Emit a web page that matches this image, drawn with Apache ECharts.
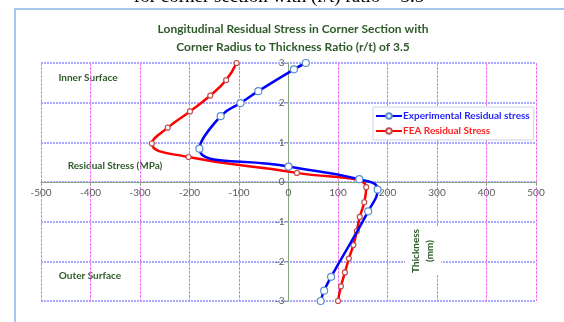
<!DOCTYPE html>
<html>
<head>
<meta charset="utf-8">
<script src="https://cdn.jsdelivr.net/npm/echarts@6/dist/echarts.min.js"></script>
<style>
  html, body { margin: 0; padding: 0; background: #fff; }
  #chart { width: 564px; height: 322px; }
</style>
</head>
<body>
<div id="chart"></div>
<script>
// Residual stress (MPa) against through-thickness position (mm)
const expStress = [35, 11, -61, -97, -137, -180, 0, 143, 180, 161, 86, 72, 65];
const expDepth  = [3, 2.84, 2.29, 1.99, 1.66, 0.84, 0.39, 0.07, -0.19, -0.74, -2.39, -2.74, -3];

const feaStress = [-105, -126, -158, -199, -244, -276, -202, 17, 157, 153, 144, 138, 131, 122, 114, 106, 100];
const feaDepth  = [3, 2.57, 2.18, 1.78, 1.37, 0.97, 0.63, 0.23, -0.13, -0.51, -0.88, -1.24, -1.59, -1.93, -2.28, -2.63, -3];

const seriesNames = ['Experimental Residual stress', 'FEA Residual Stress'];
const titleLines = [
  'Longitudinal Residual Stress in Corner Section with',
  'Corner Radius to Thickness Ratio (r/t) of 3.5'
];
const captionText = 'for corner section with (r/t) ratio = 3.5';

const pairs = (xs, ys) => xs.map((x, i) => [x, ys[i]]);

const green = '#2f5a2a';
const font = 'Lato, "Open Sans", sans-serif';

// plot box; both axes cross at the middle of it (0 MPa, 0 mm)
const gridBox = { left: 41, right: 28, top: 63, bottom: 21 };
const plotW = 564 - gridBox.left - gridBox.right;
const plotH = 322 - gridBox.top - gridBox.bottom;

const chart = echarts.init(document.getElementById('chart'), null, { renderer: 'canvas' });

chart.setOption({
  animation: false,
  backgroundColor: '#fff',
  title: {
    text: titleLines.join('\n'),
    left: 288,
    textAlign: 'center',
    top: 15,
    textStyle: { color: green, fontFamily: font, fontSize: 12, fontWeight: 'bold', lineHeight: 18 }
  },
  grid: Object.assign({ containLabel: false }, gridBox),
  legend: {
    orient: 'vertical',
    left: 373,
    top: 107,
    width: 161,
    padding: [4, 4, 4, 2],
    itemGap: 5,
    itemWidth: 26,
    itemHeight: 7,
    borderColor: '#c5d5ea',
    borderWidth: 1,
    backgroundColor: '#fff',
    data: [
      { name: seriesNames[0], textStyle: { color: '#1f1fff' } },
      { name: seriesNames[1], textStyle: { color: '#ff2020' } }
    ],
    textStyle: { fontFamily: font, fontSize: 10, fontWeight: 'bold', padding: [0, 0, 0, -4] }
  },
  xAxis: {
    type: 'value',
    min: -500, max: 500, interval: 100,
    position: 'bottom',
    offset: -plotH / 2,
    axisLine: { onZero: false, lineStyle: { color: '#8aa486', width: 1 } },
    axisTick: { show: true, length: 4, lineStyle: { color: '#8aa486' } },
    axisLabel: { color: '#5a5a5a', fontFamily: font, fontSize: 10, margin: 6 },
    splitLine: { show: true, lineStyle: { color: '#f070f0', width: 1, type: [3, 1] } }
  },
  yAxis: {
    type: 'value',
    min: -3, max: 3, interval: 1,
    position: 'left',
    offset: -plotW / 2,
    axisLine: { onZero: false, lineStyle: { color: '#8aa486', width: 1 } },
    axisTick: { show: true, length: 4, lineStyle: { color: '#8aa486' } },
    axisLabel: { color: '#5a5a5a', fontFamily: font, fontSize: 10, margin: 4 },
    splitLine: { show: true, lineStyle: { color: '#8c8cff', width: 1.5, type: [2, 1] } }
  },
  series: [
    {
      name: seriesNames[0],
      type: 'line',
      data: pairs(expStress, expDepth),
      smooth: 0.5,
      symbol: 'circle',
      symbolSize: 7,
      lineStyle: { color: '#0000ff', width: 2.5 },
      itemStyle: { color: '#ffffff', borderColor: '#5b8fd0', borderWidth: 1.2 },
      z: 3
    },
    {
      name: seriesNames[1],
      type: 'line',
      data: pairs(feaStress, feaDepth),
      smooth: 0.5,
      symbol: 'circle',
      symbolSize: 5,
      lineStyle: { color: '#ff0000', width: 2.5 },
      itemStyle: { color: '#ffffff', borderColor: '#c0504d', borderWidth: 1.2 },
      z: 2
    }
  ],
  graphic: [
    {
      type: 'rect',
      shape: { x: 15, y: 9, width: 700, height: 500 },
      style: { fill: 'none', stroke: '#a7c7ea', lineWidth: 2 },
      silent: true, z: -10
    },
    {
      type: 'text',
      x: 279, y: 7,
      style: {
        text: captionText,
        fill: '#000',
        font: '19px "Liberation Serif", "DejaVu Serif", serif',
        align: 'center',
        verticalAlign: 'bottom'
      },
      z: 10
    },
    {
      type: 'text',
      x: 88, y: 78,
      style: { text: 'Inner Surface', fill: green, font: 'bold 10px ' + font, align: 'center', verticalAlign: 'middle' }
    },
    {
      type: 'text',
      x: 115, y: 166,
      style: { text: 'Residual Stress (MPa)', fill: green, font: 'bold 10px ' + font, align: 'center', verticalAlign: 'middle' }
    },
    {
      type: 'text',
      x: 90, y: 276,
      style: { text: 'Outer Surface', fill: green, font: 'bold 10px ' + font, align: 'center', verticalAlign: 'middle' }
    },
    {
      type: 'text',
      x: 423, y: 251,
      rotation: Math.PI / 2,
      style: {
        text: 'Thickness\n(mm)',
        fill: green,
        font: 'bold 10px ' + font,
        align: 'center',
        verticalAlign: 'middle',
        lineHeight: 14,
        backgroundColor: '#fff',
        padding: [4, 2]
      },
      z: 5
    }
  ]
});
</script>
</body>
</html>
